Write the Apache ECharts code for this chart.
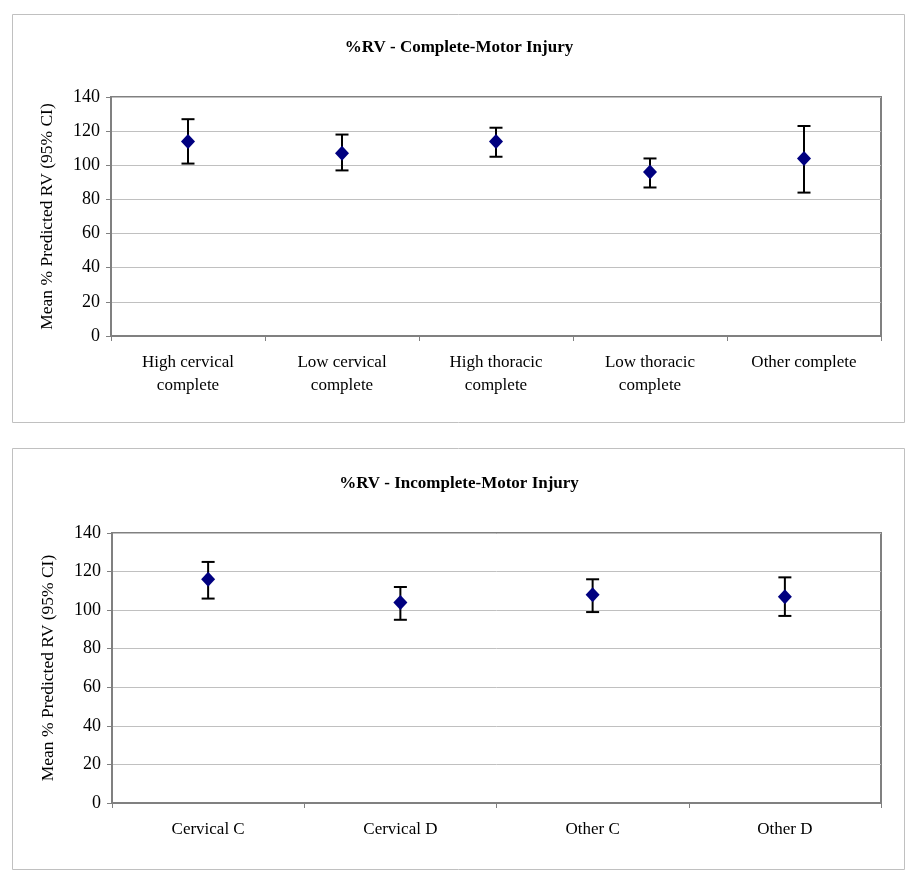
<!DOCTYPE html>
<html>
<head>
<meta charset="utf-8">
<script src="https://cdn.jsdelivr.net/npm/echarts@6/dist/echarts.min.js"></script>
<style>
  html, body { margin: 0; padding: 0; background: #ffffff; }
  #chart { width: 918px; height: 882px; }
</style>
</head>
<body>
<div id="chart"></div>
<script>
// ---- Data ----
var titleComplete = '%RV - Complete-Motor Injury';
var titleIncomplete = '%RV - Incomplete-Motor Injury';
var yAxisName = 'Mean % Predicted RV (95% CI)';

var catsComplete = ['High cervical\ncomplete', 'Low cervical\ncomplete', 'High thoracic\ncomplete', 'Low thoracic\ncomplete', 'Other complete'];
var meanComplete = [114, 107, 114, 96, 104];
var lowComplete  = [101, 97, 105, 87, 84];
var highComplete = [127, 118, 122, 104, 123];

var catsIncomplete = ['Cervical C', 'Cervical D', 'Other C', 'Other D'];
var meanIncomplete = [116, 104, 108, 107];
var lowIncomplete  = [106, 95, 99, 97];
var highIncomplete = [125, 112, 116, 117];

var yMin = 0, yMax = 140, yStep = 20;

// ---- Chart ----
var FONT = '"Liberation Serif", "Times New Roman", serif';
var chart = echarts.init(document.getElementById('chart'), null, { renderer: 'canvas' });

function errData(lo, hi) {
  return lo.map(function (v, i) { return [i, v, hi[i]]; });
}
function errRender(params, api) {
  var x = api.value(0);
  var pLo = api.coord([x, api.value(1)]);
  var pHi = api.coord([x, api.value(2)]);
  var w = 6.5;
  var st = { stroke: '#000000', lineWidth: 2 };
  return {
    type: 'group',
    children: [
      { type: 'line', shape: { x1: pLo[0], y1: pLo[1], x2: pHi[0], y2: pHi[1] }, style: st },
      { type: 'line', shape: { x1: pLo[0] - w, y1: pLo[1], x2: pLo[0] + w, y2: pLo[1] }, style: st },
      { type: 'line', shape: { x1: pHi[0] - w, y1: pHi[1], x2: pHi[0] + w, y2: pHi[1] }, style: st }
    ]
  };
}

function xAxisCfg(cats, idx) {
  return {
    type: 'category', gridIndex: idx, data: cats, boundaryGap: true,
    axisLine: { show: true, lineStyle: { color: '#808080', width: 2 } },
    axisTick: { show: true, length: 5, alignWithLabel: false, lineStyle: { color: '#808080', width: 1 } },
    axisLabel: { color: '#000', fontFamily: FONT, fontSize: 17, margin: 15, lineHeight: 23, interval: 0 },
    splitLine: { show: false }
  };
}
function yAxisCfg(idx) {
  return {
    type: 'value', gridIndex: idx, min: yMin, max: yMax, interval: yStep,
    name: yAxisName, nameLocation: 'middle', nameGap: 55, nameRotate: 90,
    nameTextStyle: { color: '#000', fontFamily: FONT, fontSize: 17.5 },
    axisLine: { show: true, lineStyle: { color: '#808080', width: 2 } },
    axisTick: { show: true, length: 5, lineStyle: { color: '#808080', width: 1 } },
    axisLabel: { color: '#000', fontFamily: FONT, fontSize: 18, margin: 11 },
    splitLine: { show: true, lineStyle: { color: '#c0c0c0', width: 1 } }
  };
}

var option = {
  animation: false,
  backgroundColor: '#ffffff',
  title: [
    { text: titleComplete, left: 'center', top: 34, textStyle: { fontFamily: FONT, fontSize: 17, fontWeight: 'bold', color: '#000' } },
    { text: titleIncomplete, left: 'center', top: 470, textStyle: { fontFamily: FONT, fontSize: 17, fontWeight: 'bold', color: '#000' } }
  ],
  graphic: [
    { type: 'rect', silent: true, shape: { x: 12.5, y: 14.5, width: 892, height: 408 }, style: { fill: 'none', stroke: '#c0c0c0', lineWidth: 1 } },
    { type: 'rect', silent: true, shape: { x: 12.5, y: 448.5, width: 892, height: 421 }, style: { fill: 'none', stroke: '#c0c0c0', lineWidth: 1 } }
  ],
  grid: [
    { left: 111, top: 97, width: 770, height: 239, show: true, borderColor: '#808080', borderWidth: 2, backgroundColor: 'transparent' },
    { left: 112, top: 533, width: 769, height: 270, show: true, borderColor: '#808080', borderWidth: 2, backgroundColor: 'transparent' }
  ],
  xAxis: [xAxisCfg(catsComplete, 0), xAxisCfg(catsIncomplete, 1)],
  yAxis: [yAxisCfg(0), yAxisCfg(1)],
  series: [
    { type: 'custom', xAxisIndex: 0, yAxisIndex: 0, data: errData(lowComplete, highComplete), renderItem: errRender, z: 2 },
    { type: 'scatter', xAxisIndex: 0, yAxisIndex: 0, data: meanComplete, symbol: 'diamond', symbolSize: [14, 15], itemStyle: { color: '#000080', opacity: 1 }, z: 3 },
    { type: 'custom', xAxisIndex: 1, yAxisIndex: 1, data: errData(lowIncomplete, highIncomplete), renderItem: errRender, z: 2 },
    { type: 'scatter', xAxisIndex: 1, yAxisIndex: 1, data: meanIncomplete, symbol: 'diamond', symbolSize: [14, 15], itemStyle: { color: '#000080', opacity: 1 }, z: 3 }
  ]
};
chart.setOption(option);
</script>
</body>
</html>
